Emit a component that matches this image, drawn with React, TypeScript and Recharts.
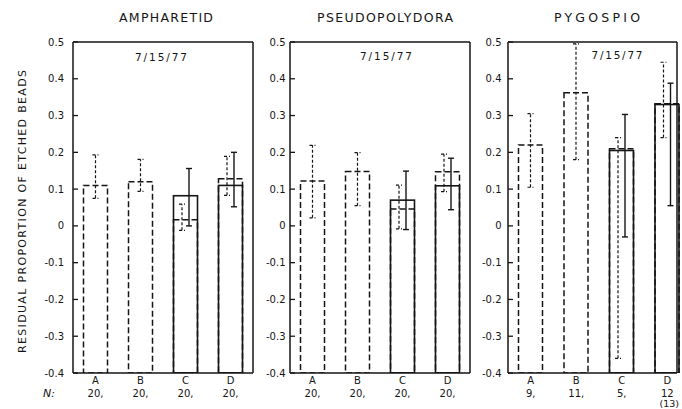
import React from 'react';
import { BarChart, Bar, XAxis, YAxis, ErrorBar, ReferenceLine } from 'recharts';

// ---------- data ----------
const categories = ['A', 'B', 'C', 'D'];
const yTicks = [-0.4, -0.3, -0.2, -0.1, 0, 0.1, 0.2, 0.3, 0.4, 0.5];
const AXIS_MIN = -0.4;
const AXIS_MAX = 0.5;

// AMPHARETID
const ampDashed = [0.11, 0.12, 0.017, 0.128];
const ampDashedLow = [0.075, 0.094, -0.012, 0.083];
const ampDashedHigh = [0.193, 0.181, 0.059, 0.189];
const ampSolid = [null, null, 0.082, 0.11];
const ampSolidLow = [null, null, 0.0, 0.052];
const ampSolidHigh = [null, null, 0.156, 0.2];
const ampN = ['20,', '20,', '20,', '20,'];

// PSEUDOPOLYDORA
const pseDashed = [0.122, 0.148, 0.046, 0.147];
const pseDashedLow = [0.022, 0.055, -0.008, 0.093];
const pseDashedHigh = [0.219, 0.199, 0.111, 0.195];
const pseSolid = [null, null, 0.07, 0.109];
const pseSolidLow = [null, null, -0.01, 0.044];
const pseSolidHigh = [null, null, 0.149, 0.184];
const pseN = ['20,', '20,', '20,', '20,'];

// PYGOSPIO
const pygDashed = [0.22, 0.362, 0.21, 0.332];
const pygDashedLow = [0.105, 0.18, -0.36, 0.24];
const pygDashedHigh = [0.305, 0.495, 0.24, 0.445];
const pygSolid = [null, null, 0.205, 0.33];
const pygSolidLow = [null, null, -0.03, 0.055];
const pygSolidHigh = [null, null, 0.303, 0.388];
const pygN = ['9,', '11,', '5,', '12'];
const pygN2 = ['', '', '', '(13)'];

const titles = ['AMPHARETID', 'PSEUDOPOLYDORA', 'PYGOSPIO'];
const dateLabel = '7/15/77';
const yLabel = 'RESIDUAL PROPORTION OF ETCHED BEADS';

// ---------- helpers ----------
const INK = '#151515';
const FONT = '"DejaVu Sans", "Liberation Sans", Arial, sans-serif';

type Num = number | null;

function buildRows(d: Num[], dl: Num[], dh: Num[], s: Num[], sl: Num[], sh: Num[]) {
  return categories.map((cat, i) => {
    const paired = s[i] != null;
    const dv = (d[i] as number) - AXIS_MIN;
    const dErr = [(d[i] as number) - (dl[i] as number), (dh[i] as number) - (d[i] as number)];
    return {
      cat,
      dPair: paired ? dv : null,
      dPairErr: paired ? dErr : undefined,
      dSolo: paired ? null : dv,
      dSoloErr: paired ? undefined : dErr,
      sPair: paired ? (s[i] as number) - AXIS_MIN : null,
      sPairErr: paired
        ? [(s[i] as number) - (sl[i] as number), (sh[i] as number) - (s[i] as number)]
        : undefined,
    };
  });
}

const ampRows = buildRows(ampDashed, ampDashedLow, ampDashedHigh, ampSolid, ampSolidLow, ampSolidHigh);
const pseRows = buildRows(pseDashed, pseDashedLow, pseDashedHigh, pseSolid, pseSolidLow, pseSolidHigh);
const pygRows = buildRows(pygDashed, pygDashedLow, pygDashedHigh, pygSolid, pygSolidLow, pygSolidHigh);

const shiftedTicks = yTicks.map((t) => +(t - AXIS_MIN).toFixed(2));
const shiftedDomain = [0, +(AXIS_MAX - AXIS_MIN).toFixed(2)];
const fmt = (v: number) => {
  const r = Math.round((v + AXIS_MIN) * 10) / 10;
  return r === 0 ? '0' : r.toFixed(1);
};

const makeShape = (key: string, shift: number, dashed: boolean) => (props: any) => {
  const { x, y, width, height, payload } = props;
  if (!payload || payload[key] == null || !height) return <g />;
  return (
    <rect
      x={x + shift}
      y={y}
      width={width}
      height={height}
      fill="none"
      stroke={INK}
      strokeWidth={dashed ? 1.5 : 1.6}
      strokeDasharray={dashed ? '6 3' : undefined}
    />
  );
};

type PanelProps = {
  rows: any[];
  nTop: string[];
  nBottom?: string[];
  plotLeft: number;
  plotRight: number;
  padRight: number;
  labelGap: number;
  rightTicks: boolean;
};

function Panel({ rows, nTop, nBottom, plotLeft, plotRight, padRight, labelGap, rightTicks }: PanelProps) {
  const yW = 40;
  const extra = 12;
  const width = yW + (plotRight - plotLeft) + 1 + extra;
  const xTick = (props: any) => {
    const { x, y, payload } = props;
    const i = payload && payload.index != null ? payload.index : categories.indexOf(payload.value);
    return (
      <g fontFamily={FONT} fontSize={10} fill={INK}>
        <text x={x} y={y + 11} textAnchor="middle" fill={INK}>
          {payload.value}
        </text>
        <text x={x} y={y + 24} textAnchor="middle" fill={INK}>
          {nTop[i]}
        </text>
        {nBottom && nBottom[i] ? (
          <text x={x + 2} y={y + 34} textAnchor="middle" fill={INK} fontSize={9.5}>
            {nBottom[i]}
          </text>
        ) : null}
      </g>
    );
  };
  const axisLine = { stroke: INK, strokeWidth: 1.5 };
  return (
    <div style={{ position: 'absolute', left: plotLeft - yW, top: 0 }}>
      <BarChart
        width={width}
        height={409}
        data={rows}
        margin={{ top: 42, right: extra, bottom: 0, left: 0 }}
        barSize={24}
        barGap={-20.5}
      >
        <XAxis
          dataKey="cat"
          height={36}
          tickLine={false}
          tickSize={0}
          tickMargin={0}
          axisLine={axisLine}
          tick={xTick}
          interval={0}
          padding={{ left: 0, right: padRight }}
        />
        <YAxis
          yAxisId="l"
          type="number"
          domain={shiftedDomain}
          ticks={shiftedTicks}
          interval={0}
          allowDataOverflow
          width={yW}
          tickSize={-5}
          tickMargin={5 + labelGap}
          tickFormatter={fmt}
          axisLine={axisLine}
          tickLine={{ stroke: INK, strokeWidth: 1.3 }}
          tick={{ fontSize: 10, fill: INK, fontFamily: FONT }}
        />
        <YAxis
          yAxisId="r"
          orientation="right"
          type="number"
          domain={shiftedDomain}
          ticks={shiftedTicks}
          interval={0}
          allowDataOverflow
          width={1}
          tickSize={-5}
          tick={false}
          tickLine={rightTicks ? { stroke: INK, strokeWidth: 1.3 } : false}
          axisLine={axisLine}
        />
        <ReferenceLine yAxisId="l" y={shiftedDomain[1]} stroke={INK} strokeWidth={1.5} />
        <Bar yAxisId="l" dataKey="dPair" shape={makeShape('dPair', 3.5, true)} isAnimationActive={false}>
          <ErrorBar
            dataKey="dPairErr"
            width={3}
            stroke={INK}
            strokeWidth={1.2}
            strokeDasharray="3 2"
            isAnimationActive={false}
          />
        </Bar>
        <Bar yAxisId="l" dataKey="dSolo" shape={makeShape('dSolo', 0, true)} isAnimationActive={false}>
          <ErrorBar
            dataKey="dSoloErr"
            width={3}
            stroke={INK}
            strokeWidth={1.2}
            strokeDasharray="3 2"
            isAnimationActive={false}
          />
        </Bar>
        <Bar yAxisId="l" dataKey="sPair" shape={makeShape('sPair', -3.5, false)} isAnimationActive={false}>
          <ErrorBar dataKey="sPairErr" width={3} stroke={INK} strokeWidth={1.4} isAnimationActive={false} />
        </Bar>
      </BarChart>
    </div>
  );
}

export default function App() {
  return (
    <div
      style={{
        position: 'absolute',
        left: 0,
        top: 0,
        width: 682,
        height: 409,
        background: '#fff',
        overflow: 'hidden',
      }}
    >
      <Panel rows={ampRows} nTop={ampN} plotLeft={73} plotRight={253} padRight={0} labelGap={9} rightTicks />
      <Panel rows={pseRows} nTop={pseN} plotLeft={290} plotRight={470} padRight={0} labelGap={4.5} rightTicks />
      <Panel
        rows={pygRows}
        nTop={pygN}
        nBottom={pygN2}
        plotLeft={508}
        plotRight={677}
        padRight={-13}
        labelGap={6.5}
        rightTicks={false}
      />
      <svg
        width={682}
        height={409}
        style={{ position: 'absolute', left: 0, top: 0, pointerEvents: 'none' }}
        fontFamily={FONT}
        fill={INK}
      >
        <text x={166} y={21.5} textAnchor="middle" fontSize={12.5} textLength={94} lengthAdjust="spacing">
          {titles[0]}
        </text>
        <text x={385} y={21.5} textAnchor="middle" fontSize={12.5} textLength={136} lengthAdjust="spacing">
          {titles[1]}
        </text>
        <text x={597} y={21.5} textAnchor="middle" fontSize={12.5} textLength={86} lengthAdjust="spacing">
          {titles[2]}
        </text>
        <text x={161} y={60.5} textAnchor="middle" fontSize={10.5} textLength={52} lengthAdjust="spacing">
          {dateLabel}
        </text>
        <text x={386} y={59.5} textAnchor="middle" fontSize={10.5} textLength={52} lengthAdjust="spacing">
          {dateLabel}
        </text>
        <text x={617} y={58.5} textAnchor="middle" fontSize={10.5} textLength={51} lengthAdjust="spacing">
          {dateLabel}
        </text>
        <text
          x={0}
          y={0}
          transform="translate(25.5 211.5) rotate(-90)"
          textAnchor="middle"
          fontSize={11}
          textLength={283}
          lengthAdjust="spacing"
        >
          {yLabel}
        </text>
        <text x={43} y={397} fontSize={11} fontStyle="italic">
          N:
        </text>
      </svg>
    </div>
  );
}
